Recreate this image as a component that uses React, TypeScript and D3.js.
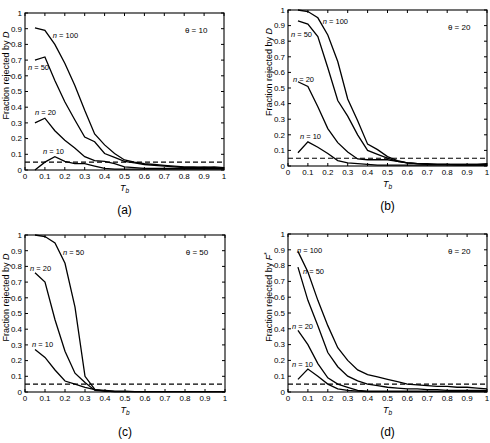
import * as d3 from "d3";

// Tb sample points (shared by all panels)
const tb = [0.05, 0.1, 0.15, 0.2, 0.25, 0.3, 0.35, 0.4, 0.45, 0.5, 0.55, 0.6, 0.65, 0.7, 0.75, 0.8, 0.85, 0.9, 0.95, 1.0];
const xTicks = [0, 0.1, 0.2, 0.3, 0.4, 0.5, 0.6, 0.7, 0.8, 0.9, 1];
const yTicks = [0, 0.1, 0.2, 0.3, 0.4, 0.5, 0.6, 0.7, 0.8, 0.9, 1];
const alpha = 0.05;

// (a) theta = 10, rejected by D
const a100 = [0.905, 0.89, 0.8, 0.68, 0.54, 0.38, 0.23, 0.16, 0.105, 0.064, 0.05, 0.04, 0.035, 0.03, 0.025, 0.02, 0.02, 0.015, 0.02, 0.015];
const a50 = [0.7, 0.72, 0.57, 0.435, 0.32, 0.21, 0.18, 0.105, 0.08, 0.055, 0.045, 0.035, 0.03, 0.025, 0.02, 0.015, 0.015, 0.02, 0.015, 0.01];
const a20 = [0.3, 0.33, 0.25, 0.19, 0.14, 0.085, 0.06, 0.055, 0.04, 0.02, 0.015, 0.01, 0.01, 0.01, 0.01, 0.01, 0.01, 0.01, 0.01, 0.01];
const a10 = [0.0, 0.05, 0.085, 0.055, 0.04, 0.04, 0.025, 0.01, 0.005, 0.005, 0.005, 0.005, 0.005, 0.005, 0.005, 0.005, 0.005, 0.005, 0.005, 0.005];

// (b) theta = 20, rejected by D
const b100 = [1.0, 0.99, 0.95, 0.84, 0.67, 0.43, 0.29, 0.14, 0.105, 0.06, 0.035, 0.02, 0.015, 0.015, 0.01, 0.01, 0.01, 0.01, 0.01, 0.015];
const b50 = [0.93, 0.91, 0.83, 0.63, 0.42, 0.32, 0.2, 0.1, 0.075, 0.05, 0.03, 0.02, 0.015, 0.01, 0.01, 0.01, 0.01, 0.01, 0.01, 0.01];
const b20 = [0.54, 0.51, 0.38, 0.24, 0.15, 0.09, 0.045, 0.04, 0.04, 0.04, 0.03, 0.02, 0.015, 0.01, 0.01, 0.01, 0.005, 0.005, 0.005, 0.005];
const b10 = [0.085, 0.155, 0.12, 0.08, 0.035, 0.02, 0.015, 0.01, 0.005, 0.005, 0.005, 0.005, 0.005, 0.005, 0.005, 0.005, 0.005, 0.005, 0.005, 0.005];

// (c) theta = 50, rejected by D
const c50 = [1.0, 0.99, 0.95, 0.82, 0.54, 0.1, 0.015, 0.01, 0.005, 0.005, 0.003, 0.003, 0.002, 0.002, 0.002, 0.002, 0.002, 0.002, 0.002, 0.002];
const c20 = [0.76, 0.7, 0.46, 0.26, 0.12, 0.06, 0.01, 0.005, 0.003, 0.002, 0.002, 0.002, 0.002, 0.002, 0.002, 0.002, 0.002, 0.002, 0.002, 0.002];
const c10 = [0.27, 0.22, 0.14, 0.07, 0.05, 0.03, 0.015, 0.005, 0.003, 0.002, 0.002, 0.002, 0.002, 0.002, 0.002, 0.002, 0.002, 0.002, 0.002, 0.002];

// (d) theta = 20, rejected by F*
const d100 = [0.89, 0.76, 0.58, 0.42, 0.28, 0.2, 0.14, 0.11, 0.095, 0.08, 0.065, 0.05, 0.045, 0.04, 0.035, 0.035, 0.03, 0.03, 0.025, 0.02];
const d50 = [0.79, 0.58, 0.42, 0.25, 0.16, 0.1, 0.07, 0.05, 0.04, 0.03, 0.025, 0.02, 0.02, 0.015, 0.015, 0.01, 0.01, 0.01, 0.01, 0.01];
const d20 = [0.39, 0.3, 0.18, 0.09, 0.05, 0.03, 0.01, 0.005, 0.005, 0.005, 0.005, 0.005, 0.005, 0.005, 0.005, 0.005, 0.005, 0.005, 0.005, 0.005];
const d10 = [0.08, 0.145, 0.1, 0.05, 0.02, 0.01, 0.005, 0.003, 0.003, 0.003, 0.003, 0.003, 0.003, 0.003, 0.003, 0.003, 0.003, 0.003, 0.003, 0.003];

type Curve = { n: string; values: number[]; lx: number; ly: number };
type Panel = {
  box: [number, number, number, number]; // left, top, right, bottom
  curves: Curve[];
  theta: string;
  stat: string;
  caption: string;
};

const font = "'Liberation Sans', Arial, sans-serif";

const panels: Panel[] = [
  {
    box: [25, 13, 224, 170],
    theta: "10",
    stat: "D",
    caption: "(a)",
    curves: [
      { n: "100", values: a100, lx: 0.14, ly: 0.84 },
      { n: "50", values: a50, lx: 0.015, ly: 0.64 },
      { n: "20", values: a20, lx: 0.05, ly: 0.35 },
      { n: "10", values: a10, lx: 0.09, ly: 0.1 },
    ],
  },
  {
    box: [288, 10, 487, 166],
    theta: "20",
    stat: "D",
    caption: "(b)",
    curves: [
      { n: "100", values: b100, lx: 0.175, ly: 0.91 },
      { n: "50", values: b50, lx: 0.015, ly: 0.83 },
      { n: "20", values: b20, lx: 0.025, ly: 0.54 },
      { n: "10", values: b10, lx: 0.06, ly: 0.17 },
    ],
  },
  {
    box: [25, 235, 225, 392],
    theta: "50",
    stat: "D",
    caption: "(c)",
    curves: [
      { n: "50", values: c50, lx: 0.19, ly: 0.87 },
      { n: "20", values: c20, lx: 0.025, ly: 0.77 },
      { n: "10", values: c10, lx: 0.035, ly: 0.285 },
    ],
  },
  {
    box: [288, 234, 487, 392],
    theta: "20",
    stat: "F",
    caption: "(d)",
    curves: [
      { n: "100", values: d100, lx: 0.045, ly: 0.88 },
      { n: "50", values: d50, lx: 0.075, ly: 0.75 },
      { n: "20", values: d20, lx: 0.02, ly: 0.4 },
      { n: "10", values: d10, lx: 0.02, ly: 0.16 },
    ],
  },
];

function PanelChart({ p }: { p: Panel }) {
  const [l, t, r, b] = p.box;
  const x = d3.scaleLinear().domain([0, 1]).range([l, r]);
  const y = d3.scaleLinear().domain([0, 1]).range([b, t]);
  const line = d3
    .line<number>()
    .x((_, i) => x(tb[i]))
    .y((d) => y(d));
  const cx = (l + r) / 2;
  const tk = 3;

  return (
    <g>
      {p.curves.map((c) => (
        <path key={c.n} d={line(c.values) || ""} fill="none" stroke="#000" strokeWidth={1.3} />
      ))}
      <line x1={x(0)} x2={x(1)} y1={y(alpha)} y2={y(alpha)} stroke="#000" strokeWidth={1.1} strokeDasharray="5,3" />
      <rect x={l} y={t} width={r - l} height={b - t} fill="none" stroke="#000" strokeWidth={1.1} />
      {xTicks.map((v) => (
        <g key={"x" + v}>
          <line x1={x(v)} x2={x(v)} y1={b} y2={b - tk} stroke="#000" />
          <line x1={x(v)} x2={x(v)} y1={t} y2={t + tk} stroke="#000" />
          <text x={x(v)} y={b + 9} fontSize={8} textAnchor="middle" fontFamily={font} fill="#000">
            {String(v)}
          </text>
        </g>
      ))}
      {yTicks.map((v) => (
        <g key={"y" + v}>
          <line x1={l} x2={l + tk} y1={y(v)} y2={y(v)} stroke="#000" />
          <line x1={r} x2={r - tk} y1={y(v)} y2={y(v)} stroke="#000" />
          <text x={l - 3} y={y(v) + 2.8} fontSize={8} textAnchor="end" fontFamily={font} fill="#000">
            {String(v)}
          </text>
        </g>
      ))}
      {p.curves.map((c) => (
        <text key={"l" + c.n} x={x(c.lx)} y={y(c.ly)} fontSize={7.5} fontFamily={font} fill="#000">
          <tspan fontStyle="italic">n</tspan>
          {" = " + c.n}
        </text>
      ))}
      <text x={x(0.86)} y={y(0.875)} fontSize={8} textAnchor="middle" fontFamily={font} fill="#000">
        {"\u03b8 = " + p.theta}
      </text>
      <text x={cx} y={b + 21} fontSize={9} textAnchor="middle" fontFamily={font} fill="#000">
        <tspan fontStyle="italic">T</tspan>
        <tspan fontStyle="italic" fontSize={6.5} dy={2}>b</tspan>
      </text>
      <text
        transform={`translate(${l - 16},${(t + b) / 2 - 16}) rotate(-90)`}
        fontSize={9}
        textAnchor="middle"
        fontFamily={font}
        fill="#000"
      >
        {"Fraction rejected by "}
        <tspan fontStyle="italic">{p.stat}</tspan>
        {p.stat === "F" ? <tspan fontSize={6.5} dy={-3}>*</tspan> : null}
      </text>
      <text x={cx} y={b + 44} fontSize={12} textAnchor="middle" fontFamily={font} fill="#000">
        {p.caption}
      </text>
    </g>
  );
}

export default function App() {
  return (
    <svg
      width={490}
      height={443}
      style={{ position: "absolute", left: 0, top: 0, background: "#fff" }}
    >
      {panels.map((p) => (
        <PanelChart key={p.caption} p={p} />
      ))}
    </svg>
  );
}
